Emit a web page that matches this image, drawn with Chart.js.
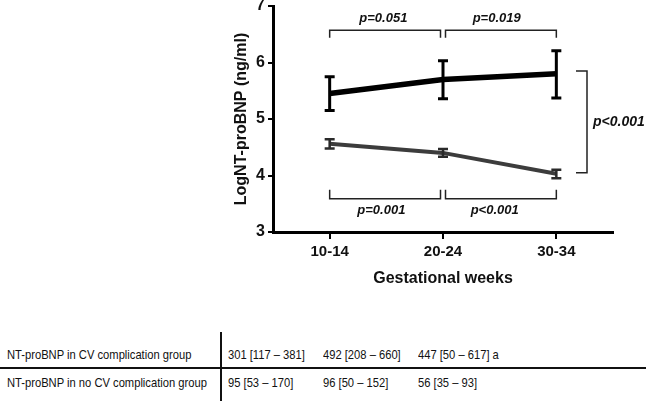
<!DOCTYPE html>
<html>
<head>
<meta charset="utf-8">
<script src="https://cdn.jsdelivr.net/npm/chart.js@4"></script>
<style>
  body { margin: 0; background: #fff; }
  #wrap { position: relative; width: 646px; height: 401px; overflow: hidden; background: #fff; }
  #chart { position: absolute; left: 0; top: 0; }
  .cell { position: absolute; font-family: "Liberation Sans", Arial, sans-serif; font-size: 13px; color: #111; white-space: nowrap; line-height: 15px; transform: scaleX(0.86); transform-origin: left center; }
  .hline { position: absolute; left: 0; width: 646px; height: 2px; background: #111; top: 367px; }
  .vline { position: absolute; left: 220px; width: 2px; top: 332px; height: 69px; background: #111; }
</style>
</head>
<body>
<div id="wrap">
  <canvas id="chart" width="646" height="300"></canvas>
  <div class="hline"></div>
  <div class="vline"></div>
  <div id="table"></div>
</div>
<script>
// chart data
const weeks = ["10-14", "20-24", "30-34"];
const cvMean = [5.45, 5.70, 5.80];
const cvLow = [5.15, 5.36, 5.37];
const cvHigh = [5.75, 6.03, 6.21];
const noCvMean = [4.56, 4.40, 4.03];
const noCvLow = [4.48, 4.33, 3.95];
const noCvHigh = [4.64, 4.47, 4.10];
const yTicks = [3, 4, 5, 6, 7];

// p-values
const topPs = ["p=0.051", "p=0.019"];
const bottomPs = ["p=0.001", "p<0.001"];
const groupP = "p<0.001";

// table below the chart
const rowLabels = ["NT-proBNP in CV complication group", "NT-proBNP in no CV complication group"];
const cvMedians = ["301 [117 \u2013 381]", "492 [208 \u2013 660]", "447 [50 \u2013 617] a"];
const noCvMedians = ["95 [53 \u2013 170]", "96 [50 \u2013 152]", "56 [35 \u2013 93]"];

//table
function buildTable() {
  const table = document.getElementById("table");
  const colX = [7, 228, 323, 418];
  const rowY = [347, 375];
  const rows = [[rowLabels[0], ...cvMedians], [rowLabels[1], ...noCvMedians]];
  let html = "";
  rows.forEach((row, r) => {
    row.forEach((text, c) => {
      html += `<div class="cell" style="left:${colX[c]}px;top:${rowY[r]}px">${text}</div>`;
    });
  });
  table.innerHTML = html;
}
buildTable();

// error bars, drawn from each dataset's low/high arrays
const errorBars = {
  id: "errorBars",
  afterDatasetsDraw(chart) {
    const ctx = chart.ctx;
    const x = chart.scales.x;
    const y = chart.scales.y;
    chart.data.datasets.forEach((ds) => {
      ctx.save();
      ctx.strokeStyle = ds.barColor;
      ctx.lineWidth = ds.barWidth;
      ds.low.forEach((lo, i) => {
        const px = x.getPixelForValue(i);
        const yl = y.getPixelForValue(lo);
        const yh = y.getPixelForValue(ds.high[i]);
        ctx.beginPath();
        ctx.moveTo(px, yl);
        ctx.lineTo(px, yh);
        ctx.moveTo(px - 5, yl);
        ctx.lineTo(px + 5, yl);
        ctx.moveTo(px - 5, yh);
        ctx.lineTo(px + 5, yh);
        ctx.stroke();
      });
      ctx.restore();
    });
  },
};

// brackets and p-values
const brackets = {
  id: "brackets",
  afterDraw(chart) {
    const ctx = chart.ctx;
    const x = chart.scales.x;
    const y = chart.scales.y;
    ctx.save();
    ctx.strokeStyle = "#222";
    ctx.fillStyle = "#111";
    ctx.lineWidth = 1.5;
    ctx.font = "italic bold 13px 'Liberation Sans', Arial, sans-serif";
    ctx.textAlign = "center";
    ctx.textBaseline = "middle";

    const topY = y.getPixelForValue(6.57);
    const topTick = y.getPixelForValue(6.44);
    const botY = y.getPixelForValue(3.59);
    const botTick = y.getPixelForValue(3.75);
    for (let i = 0; i < 2; i++) {
      const x1 = x.getPixelForValue(i) + (i === 0 ? 0 : 2.5);
      const x2 = x.getPixelForValue(i + 1) - (i === 0 ? 2.5 : 0);
      ctx.beginPath();
      ctx.moveTo(x1, topTick);
      ctx.lineTo(x1, topY);
      ctx.lineTo(x2, topY);
      ctx.lineTo(x2, topTick);
      ctx.moveTo(x1, botTick);
      ctx.lineTo(x1, botY);
      ctx.lineTo(x2, botY);
      ctx.lineTo(x2, botTick);
      ctx.stroke();
      const mid = (x.getPixelForValue(i) + x.getPixelForValue(i + 1)) / 2;
      ctx.fillText(topPs[i], mid - 3, topY - 12);
      ctx.fillText(bottomPs[i], mid - 5, botY + 12);
    }

    // group comparison on the right
    const rx = x.right - 26;
    const ry1 = y.getPixelForValue(5.85);
    const ry2 = y.getPixelForValue(4.05);
    ctx.beginPath();
    ctx.moveTo(rx - 11, ry1);
    ctx.lineTo(rx, ry1);
    ctx.lineTo(rx, ry2);
    ctx.lineTo(rx - 11, ry2);
    ctx.stroke();
    ctx.textAlign = "left";
    ctx.font = "italic bold 14px 'Liberation Sans', Arial, sans-serif";
    ctx.fillText(groupP, rx + 6, (ry1 + ry2) / 2);
    ctx.restore();
  },
};

new Chart(document.getElementById("chart"), {
  type: "line",
  data: {
    labels: weeks,
    datasets: [
      {
        label: "CV complication",
        data: cvMean,
        low: cvLow,
        high: cvHigh,
        borderColor: "#000",
        barColor: "#000",
        borderWidth: 5.5,
        barWidth: 3,
        pointRadius: 0,
        tension: 0,
      },
      {
        label: "no CV complication",
        data: noCvMean,
        low: noCvLow,
        high: noCvHigh,
        borderColor: "#3c3c3c",
        barColor: "#2a2a2a",
        borderWidth: 4,
        barWidth: 2.5,
        pointRadius: 0,
        tension: 0,
      },
    ],
  },
  options: {
    responsive: false,
    animation: false,
    layout: { padding: { left: 230, right: 33, top: 6, bottom: 8 } },
    plugins: { legend: { display: false }, tooltip: { enabled: false } },
    scales: {
      x: {
        offset: true,
        grid: { offset: false, drawOnChartArea: false, color: "#000", lineWidth: 2, tickLength: 7 },
        border: { color: "#000", width: 3 },
        ticks: {
          color: "#111",
          padding: 4,
          font: { family: "'Liberation Sans', Arial, sans-serif", size: 15, weight: "bold" },
        },
        title: {
          display: true,
          text: "Gestational weeks",
          color: "#111",
          padding: { top: 4, bottom: 4 },
          font: { family: "'Liberation Sans', Arial, sans-serif", size: 16, weight: "bold" },
        },
        afterFit(scale) {
          scale.height = 60;
        },
      },
      y: {
        min: 3,
        max: 7,
        afterBuildTicks(scale) {
          scale.ticks = yTicks.map((v) => ({ value: v }));
        },
        grid: { drawOnChartArea: false, color: "#000", lineWidth: 2, tickLength: 5 },
        border: { color: "#000", width: 3 },
        ticks: {
          color: "#111",
          padding: 3,
          font: { family: "'Liberation Sans', Arial, sans-serif", size: 16, weight: "bold" },
        },
        title: {
          display: true,
          text: "LogNT-proBNP (ng/ml)",
          color: "#111",
          padding: { top: 2, bottom: 0 },
          font: { family: "'Liberation Sans', Arial, sans-serif", size: 16, weight: "bold" },
        },
        afterFit(scale) {
          scale.width = 43;
          scale.paddingTop = 0;
          scale.paddingBottom = 0;
        },
      },
    },
  },
  plugins: [errorBars, brackets],
});
</script>
</body>
</html>
